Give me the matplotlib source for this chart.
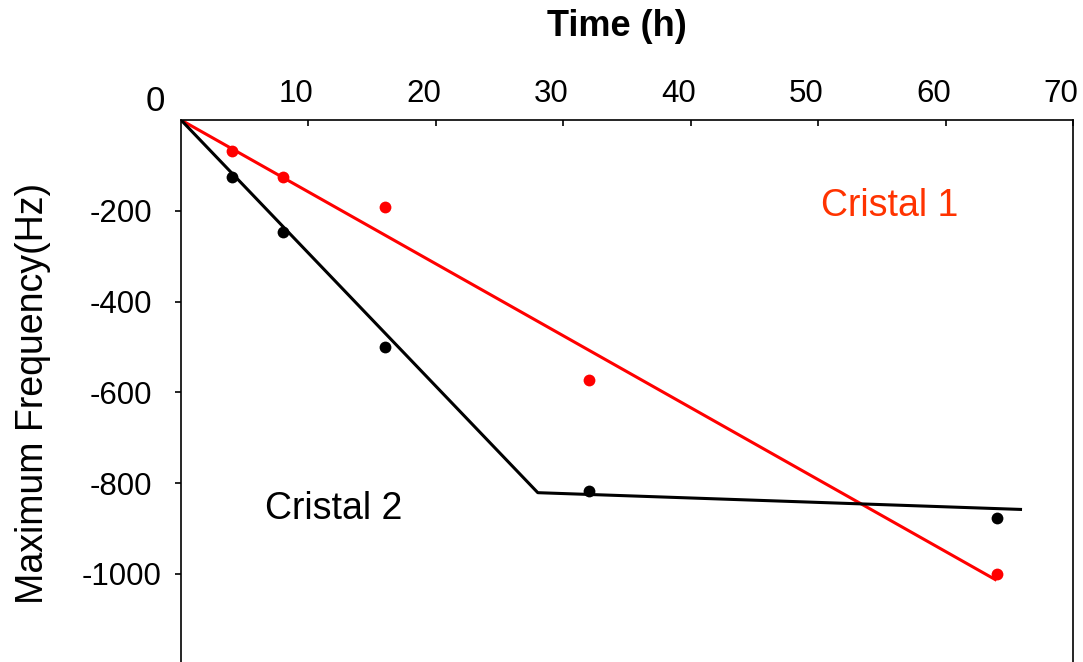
import matplotlib
matplotlib.use("Agg")
import matplotlib.pyplot as plt
from matplotlib.transforms import ScaledTranslation

# Data
time_h = [4, 8, 16, 32, 64]
cristal1 = [-68, -126, -191, -573, -1000]
cristal2 = [-126, -246, -500, -817, -876]

fit1_x = [0, 64]
fit1_y = [0, -1014]
fit2_x = [0, 28, 66]
fit2_y = [0, -821, -858]

xticks = [10, 20, 30, 40, 50, 60, 70]
yticks = [-200, -400, -600, -800, -1000]

plt.rcParams['font.family'] = ['Liberation Sans', 'DejaVu Sans']

W, H = 1083, 662
fig = plt.figure(figsize=(W / 100, H / 100), dpi=100)
ax = fig.add_axes([181 / W, 0, (1073 - 181) / W, 1 - 120 / H])

red = '#ff0000'
ax.plot(fit1_x, fit1_y, color=red, lw=2.2, solid_capstyle='butt')
ax.plot(fit2_x, fit2_y, color='black', lw=2.2, solid_capstyle='butt')
ax.plot(time_h, cristal1, 'o', color=red, ms=8.5, mec='none')
ax.plot(time_h, cristal2, 'o', color='black', ms=8.5, mec='none')

ax.set_xlim(0, 70)
ax.set_ylim(-1194, 0)

ax.xaxis.tick_top()
ax.set_xticks(xticks)
ax.set_xticklabels([str(t) for t in xticks])
ax.set_yticks(yticks)
ax.set_yticklabels([str(t) for t in yticks])
ax.tick_params(axis='x', direction='in', length=4, width=1.2, labelsize=22.5, pad=8)
ax.tick_params(axis='y', direction='out', length=4, width=1.2, labelsize=22.5, pad=39)
for lab in ax.get_yticklabels():
    lab.set_horizontalalignment('center')

off = ScaledTranslation(-12 / 100, 0, fig.dpi_scale_trans)
for lab in ax.get_xticklabels():
    lab.set_transform(lab.get_transform() + off)

for s in ['left', 'top', 'right']:
    ax.spines[s].set_linewidth(1.2)
ax.spines['bottom'].set_visible(False)

# "0" at the origin corner
fig.text(155 / W, 1 - 101.5 / H, '0', fontsize=25, ha='center', va='center')

# Title and y label
fig.text(617 / W, 1 - 27 / H, 'Time (h)', fontsize=26, fontweight='bold',
         ha='center', va='center')
fig.text(33 / W, 1 - 393 / H, 'Maximum Frequency(Hz)', fontsize=27,
         rotation=90, ha='center', va='center')

# Series labels
fig.text(890 / W, 1 - 206 / H, 'Cristal 1', fontsize=27, color='#ff3300',
         ha='center', va='center')
fig.text(334 / W, 1 - 509 / H, 'Cristal 2', fontsize=27, color='black',
         ha='center', va='center')

fig.savefig('out.png', dpi=100)
